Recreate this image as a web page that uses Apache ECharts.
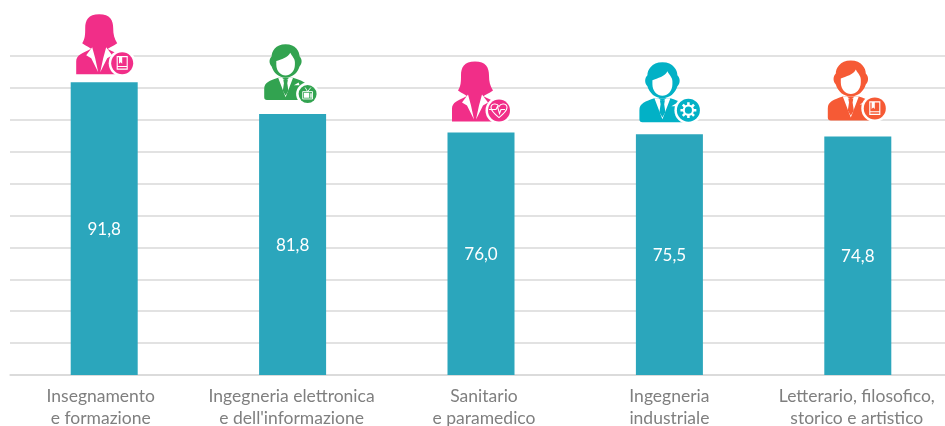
<!DOCTYPE html>
<html><head><meta charset="utf-8">
<style>html,body{margin:0;padding:0;background:#fff}#c{width:945px;height:426px}</style>
<script src="https://cdn.jsdelivr.net/npm/echarts@6/dist/echarts.min.js"></script>
</head><body><div id="c"></div>
<script>
const categories = ["Insegnamento\ne formazione","Ingegneria elettronica\ne dell'informazione","Sanitario\ne paramedico","Ingegneria\nindustriale","Letterario, filosofico,\nstorico e artistico"];
const values = [91.8,81.8,76.0,75.5,74.8];
const iconKinds = ["woman","man","woman","man","man"];
const iconGlyphs = ["book","tv","heart","gear","book"];
const iconColors = ["#f12e88","#32a350","#f12e88","#02b1c6","#f65a35"];
// icon placement relative to the top of each bar: dx, dy, scale, badge x, badge y, badge r
const iconPlace = [[-5,-8,1,18,-19,11],[-7,-14,0.93,15,-20,9],[-6,-11,1,18,-22,11],[-7,-12,1,19,-24,11.5],[-7,-16,1,17,-28,11]];
// horizontal nudge of each category label: padding left, padding right
const labelPad = [[0,7],[0,2],[6,0],[0,0],[0,2]];

const W = '#ffffff';
function p(d, fill, extra){return {type:'path',shape:{pathData:d},style:Object.assign({fill:fill},extra||{})};}
function womanParts(c){return [
  p('M-23,0 L-23,-13 C-23,-19 -17,-21 -9,-25 L9,-25 C17,-21 24,-19 24,-13 L24,0 Z',c),
  p('M0,-60 C-11,-60 -14,-54 -14,-46 C-14,-40 -14,-36 -17,-31 C-13,-28 -9,-27 -7,-24 L7,-24 C10,-27 14,-28 18,-31 C15,-36 14,-40 14,-46 C14,-54 11,-60 0,-60 Z',c),
  p('M-7,-27 L-13,-19 L-8,-16 L-1,-2 L-4,-16 Z',W),
  p('M7,-27 L13,-19 L8,-16 L1,-2 L4,-16 Z',W)
];}
function manParts(c){return [
  p('M-23,-3 L-23,-12 C-23,-19 -17,-21 -8,-24 L8,-24 C17,-21 24,-19 24,-12 L24,0 L-20,0 Q-23,0 -23,-3 Z',c),
  p('M0,-60 C11,-60 15,-52 15,-47 C18,-44 18,-39 15,-36 C13,-29 7,-24 0,-24 C-7,-24 -13,-29 -15,-36 C-18,-39 -18,-44 -15,-47 C-15,-52 -11,-60 0,-60 Z',c),
  p('M-10,-42 C-5,-44 3,-46 5,-51 C7,-47 10,-45 10,-41 L10,-38 C10,-31 5,-26.5 0,-26.5 C-5,-26.5 -10,-31 -10,-38 Z',W),
  p('M-8,-24 L-4,-24 L0,-21 L4,-24 L8,-24 L0,-3 Z',W),
  p('M-2.5,-22 L2.5,-22 L1.8,-18 L3,-10 L0,-5 L-3,-10 L-1.8,-18 Z',c),
  p('M9,-16 L14,-19 L15,-16 Z',W)
];}
function glyph(kind,r){
  const k=r/11, lw={stroke:W,lineWidth:1.1,fill:'none'};
  const g=(d,st)=>({type:'path',scaleX:k,scaleY:k,shape:{pathData:d},style:st});
  if(kind==='book') return [
    g('M-5,-6.5 L5,-6.5 L5,6 L-5,6 Z M-5,3.4 L5,3.4',lw),
    g('M-3.2,-6.5 L0,-6.5 L0,0.5 L-1.6,-0.8 L-3.2,0.5 Z',{fill:W})];
  if(kind==='tv') return [
    g('M-6,-3 L6,-3 L6,6 L-6,6 Z M-3,-8 L0,-3 L4,-8',lw),
    g('M-4.5,-1.5 L2,-1.5 L2,4.5 L-4.5,4.5 Z M3.3,-1 L5,-1 L5,4.5 L3.3,4.5 Z',{fill:W})];
  if(kind==='heart') return [
    g('M0,7 C-5,3 -8,0 -8,-3 C-8,-7 -2,-8 0,-4 C2,-8 8,-7 8,-3 C8,0 5,3 0,7 Z',lw),
    g('M-10,-1 L-3,-1 L-1.5,-4 L0.5,3 L2,-1 L6,-1',lw)];
  const teeth=[];
  for(let a=0;a<8;a++){const t=a*Math.PI/4;teeth.push('M'+(4.6*Math.cos(t)).toFixed(2)+','+(4.6*Math.sin(t)).toFixed(2)+' L'+(7.6*Math.cos(t)).toFixed(2)+','+(7.6*Math.sin(t)).toFixed(2));}
  return [
    {type:'circle',scaleX:k,scaleY:k,shape:{cx:0,cy:0,r:4.4},style:{stroke:W,lineWidth:2,fill:'none'}},
    g(teeth.join(' '),{stroke:W,lineWidth:2.4,fill:'none'})];
}
function renderIcon(params, api){
  const i=api.value(0), pt=api.coord([i,api.value(1)]);
  const pl=iconPlace[i], c=iconColors[i];
  const body=iconKinds[i]==='woman'?womanParts(c):manParts(c);
  return {type:'group',x:pt[0],y:pt[1],children:[
    {type:'group',x:pl[0],y:pl[1],scaleX:pl[2],scaleY:pl[2],children:body},
    {type:'group',x:pl[3],y:pl[4],children:[
      {type:'circle',shape:{cx:0,cy:0,r:pl[5]+2.5},style:{fill:W}},
      {type:'circle',shape:{cx:0,cy:0,r:pl[5]},style:{fill:c}}
    ].concat(glyph(iconGlyphs[i],pl[5]))}
  ]};
}
const chart=echarts.init(document.getElementById('c'),null,{renderer:'canvas'});
chart.setOption({
  animation:false,
  grid:{left:10,top:56,width:942,height:319,containLabel:false,outerBoundsMode:'none'},
  xAxis:{type:'category',
    data:categories.map((c,i)=>({value:c,textStyle:{padding:[0,labelPad[i][1],0,labelPad[i][0]]}})),
    axisLine:{lineStyle:{color:'#d9d9d9',width:1.5}},axisTick:{show:false},
    axisLabel:{interval:0,color:'#7f7f7f',fontFamily:'Lato',fontSize:17.5,lineHeight:22,margin:10,hideOverlap:false}},
  yAxis:{type:'value',min:0,max:100,interval:10,axisLine:{show:false},axisTick:{show:false},axisLabel:{show:false},
    splitLine:{lineStyle:{color:'#d9d9d9',width:1.5}}},
  series:[
    {type:'bar',data:values,barWidth:67,itemStyle:{color:'#2ba6bc'},z:2,
      label:{show:true,position:'inside',offset:[0,1],color:'#fff',fontFamily:'Lato',fontSize:17,
        formatter:o=>o.value.toFixed(1).replace('.',',')}},
    {type:'custom',renderItem:renderIcon,data:values.map((v,i)=>[i,v]),z:3,clip:false,silent:true,
      encode:{x:0,y:1}}
  ]
});
</script></body></html>
